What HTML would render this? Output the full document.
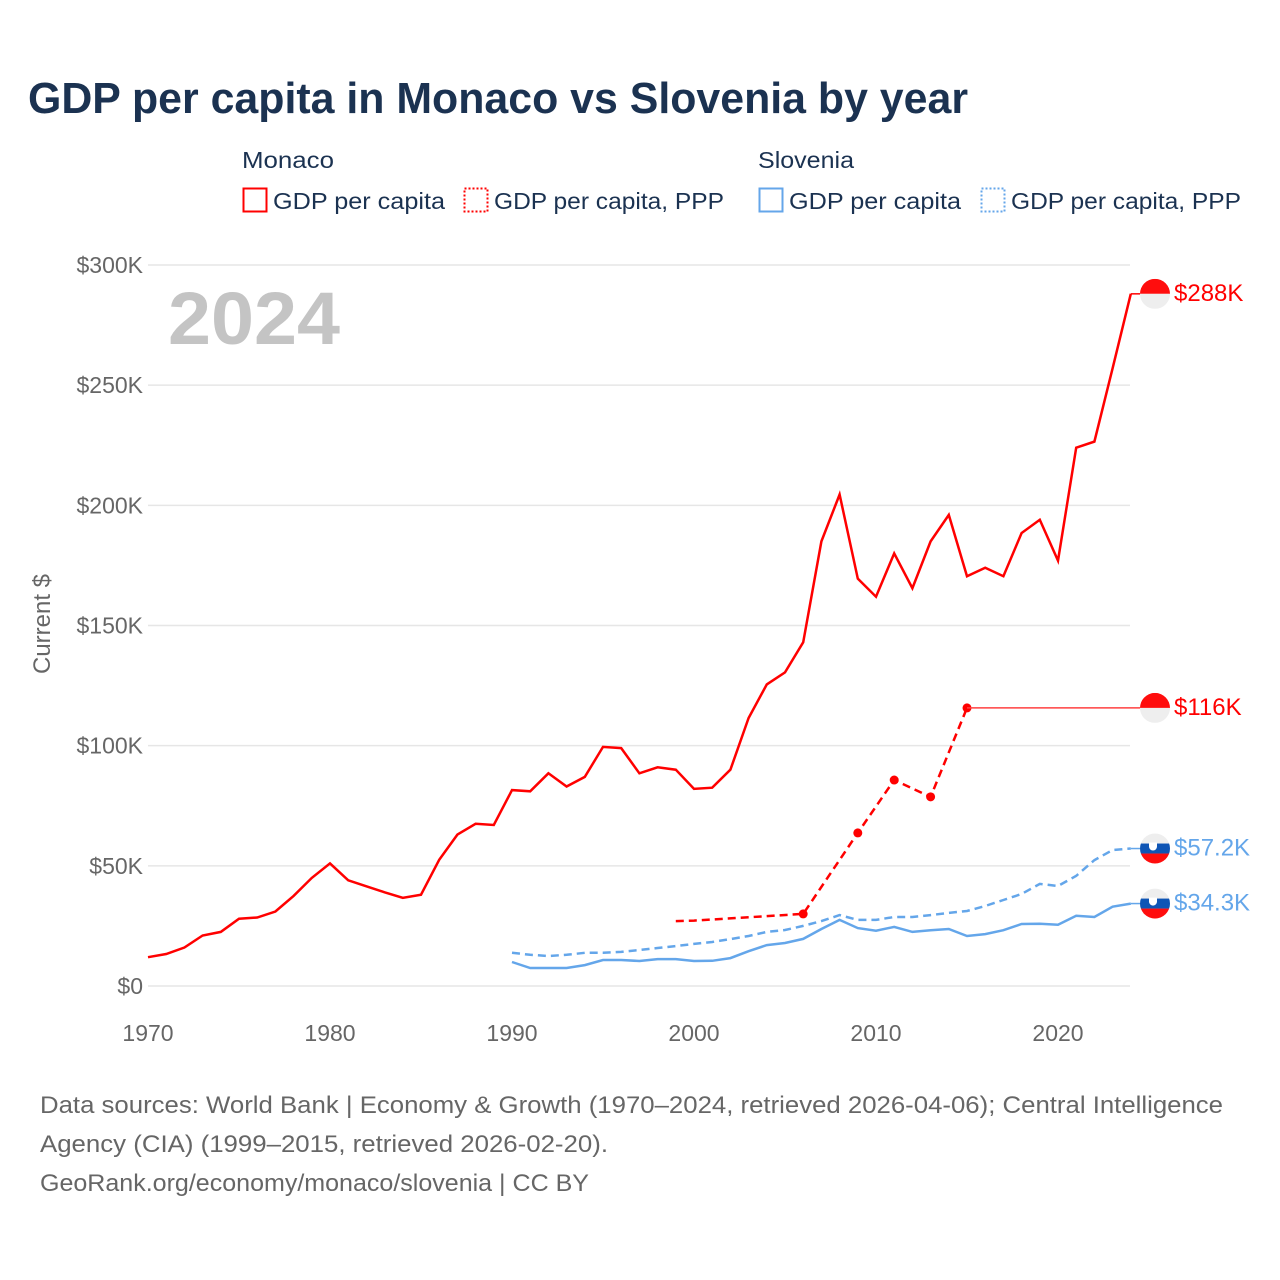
<!DOCTYPE html>
<html><head><meta charset="utf-8">
<style>
html,body{margin:0;padding:0;background:#fff;}
svg{display:block;font-family:"Liberation Sans",sans-serif;}
</style></head>
<body>
<svg id="chart" width="1280" height="1280" viewBox="0 0 1280 1280" xmlns="http://www.w3.org/2000/svg">
  <rect width="1280" height="1280" fill="#fff"/>
  <text x="28" y="113" font-size="44" font-weight="bold" fill="#1b3251" textLength="940" lengthAdjust="spacingAndGlyphs">GDP per capita in Monaco vs Slovenia by year</text>

  <g font-size="23" fill="#1b3251">
    <text x="242" y="168" textLength="92" lengthAdjust="spacingAndGlyphs">Monaco</text>
    <text x="758" y="168" textLength="96" lengthAdjust="spacingAndGlyphs">Slovenia</text>
    <g>
      <rect x="243.5" y="188.5" width="23" height="23" fill="none" stroke="#ff0000" stroke-width="2"/>
      <text x="273" y="209" textLength="172" lengthAdjust="spacingAndGlyphs">GDP per capita</text>
    </g>
    <g>
      <rect x="464.5" y="188.5" width="23" height="23" fill="none" stroke="#ff0000" stroke-width="2" stroke-dasharray="2,2"/>
      <text x="494" y="209" textLength="230" lengthAdjust="spacingAndGlyphs">GDP per capita, PPP</text>
    </g>
    <g>
      <rect x="759.5" y="188.5" width="23" height="23" fill="none" stroke="#64a6ea" stroke-width="2"/>
      <text x="789" y="209" textLength="172" lengthAdjust="spacingAndGlyphs">GDP per capita</text>
    </g>
    <g>
      <rect x="981.5" y="188.5" width="23" height="23" fill="none" stroke="#64a6ea" stroke-width="2" stroke-dasharray="2,2"/>
      <text x="1011" y="209" textLength="230" lengthAdjust="spacingAndGlyphs">GDP per capita, PPP</text>
    </g>
  </g>

  <text x="168" y="344" font-size="74" font-weight="bold" fill="#c4c4c4" textLength="172" lengthAdjust="spacingAndGlyphs">2024</text>
  <text transform="translate(50,624) rotate(-90)" text-anchor="middle" font-size="24" fill="#666">Current $</text>

  <g id="grid"></g>
  <g id="yticks"></g>
  <g id="xticks"></g>
  <g id="series"></g>
  <g id="labels"></g>

  <g font-size="24" fill="#666">
    <text x="40" y="1113" textLength="1183" lengthAdjust="spacingAndGlyphs">Data sources: World Bank | Economy &amp; Growth (1970–2024, retrieved 2026-04-06); Central Intelligence</text>
    <text x="40" y="1152" textLength="568" lengthAdjust="spacingAndGlyphs">Agency (CIA) (1999–2015, retrieved 2026-02-20).</text>
    <text x="40" y="1191" textLength="549" lengthAdjust="spacingAndGlyphs">GeoRank.org/economy/monaco/slovenia | CC BY</text>
  </g>
</svg>
<script>
const yTicks = [0, 50, 100, 150, 200, 250, 300];
const yTickLabels = ["$0", "$50K", "$100K", "$150K", "$200K", "$250K", "$300K"];
const xTicks = [1970, 1980, 1990, 2000, 2010, 2020];
const monacoYears = [1970,1971,1972,1973,1974,1975,1976,1977,1978,1979,1980,1981,1982,1983,1984,1985,1986,1987,1988,1989,1990,1991,1992,1993,1994,1995,1996,1997,1998,1999,2000,2001,2002,2003,2004,2005,2006,2007,2008,2009,2010,2011,2012,2013,2014,2015,2016,2017,2018,2019,2020,2021,2022,2023,2024];
const monacoGdp = [12,13.3,16,21,22.5,28,28.5,31,37.5,45,51,44,41.5,39,36.7,38,52.5,63,67.5,67,81.5,81,88.5,83,87,99.5,99,88.5,91,90,82,82.5,90,111.5,125.5,130.5,143,185,204.5,169.5,162,180,165.5,185,196,170.5,174,170.5,188.5,194,177,224,226.5,257,288];
const monacoPppYears = [1999,2000,2006,2009,2011,2013,2015];
const monacoPpp = [27,27.2,30,63.7,85.7,78.7,115.7];
const slovYears = [1990,1991,1992,1993,1994,1995,1996,1997,1998,1999,2000,2001,2002,2003,2004,2005,2006,2007,2008,2009,2010,2011,2012,2013,2014,2015,2016,2017,2018,2019,2020,2021,2022,2023,2024];
const slovGdp = [10,7.5,7.5,7.5,8.7,10.8,10.8,10.4,11.2,11.2,10.4,10.5,11.6,14.5,17,17.9,19.6,23.7,27.5,24.1,23,24.6,22.5,23.2,23.7,20.8,21.6,23.2,25.8,25.9,25.5,29.2,28.7,33,34.3];
const slovPpp = [13.8,13,12.5,13,13.8,13.8,14.2,15,15.8,16.6,17.5,18.3,19.5,20.8,22.5,23.3,25,27,29.5,27.5,27.5,28.7,28.7,29.5,30.4,31.2,33.3,35.8,38.3,42.5,41.6,45.8,52.4,56.6,57.2];
const endLabels = ["$288K", "$116K", "$57.2K", "$34.3K"];

const NS = "http://www.w3.org/2000/svg";
const X0 = 148, X1 = 1058, Y0 = 986, Y1 = 265;
function xs(yr){ return X0 + (yr - 1970) * (X1 - X0) / 50; }
function ys(v){ return Y0 - v * (Y0 - Y1) / 300; }
function mk(tag, attrs, parent){
  const e = document.createElementNS(NS, tag);
  for (const k in attrs) e.setAttribute(k, attrs[k]);
  parent.appendChild(e);
  return e;
}
const grid = document.getElementById('grid');
const yt = document.getElementById('yticks');
yTicks.forEach((v, i) => {
  const l = mk('line', {x1: 148, x2: 1130, y1: ys(v), y2: ys(v), stroke: '#e6e6e6', 'stroke-width': 1.5}, grid);
  
  
  const t = mk('text', {x: 143, y: ys(v) + 8, 'text-anchor': 'end', 'font-size': 23, fill: '#666'}, yt);
  t.textContent = yTickLabels[i];
  
  
});
const xt = document.getElementById('xticks');
xTicks.forEach(v => {
  const t = mk('text', {x: xs(v), y: 1041, 'text-anchor': 'middle', 'font-size': 23, fill: '#666'}, xt);
  t.textContent = v;
  
  
});
const ser = document.getElementById('series');
function path(years, vals){ return years.map((y, i) => (i ? 'L' : 'M') + xs(y).toFixed(1) + ',' + ys(vals[i]).toFixed(1)).join(''); }

let p;
p = mk('path', {d: path(slovYears, slovPpp), fill: 'none', stroke: '#64a6ea', 'stroke-width': 2.5, 'stroke-dasharray': '8,5'}, ser);


p = mk('path', {d: path(slovYears, slovGdp), fill: 'none', stroke: '#64a6ea', 'stroke-width': 2.5}, ser);


p = mk('path', {d: path(monacoYears, monacoGdp), fill: 'none', stroke: '#ff0000', 'stroke-width': 2.5}, ser);


p = mk('path', {d: path(monacoPppYears, monacoPpp), fill: 'none', stroke: '#ff0000', 'stroke-width': 2.5, 'stroke-dasharray': '8,5'}, ser);


monacoPppYears.forEach((y, i) => {
  if (i < 2) return;
  const c = mk('circle', {cx: xs(y), cy: ys(monacoPpp[i]), r: 4.5, fill: '#ff0000'}, ser);
  
  
});
const lastPpp = monacoPpp[monacoPpp.length - 1];
p = mk('line', {x1: xs(monacoPppYears[monacoPppYears.length - 1]), x2: 1140, y1: ys(lastPpp), y2: ys(lastPpp), stroke: '#ff4040', 'stroke-width': 1.5}, ser);



const lab = document.getElementById('labels');
const ends = [
  {v: monacoGdp[monacoGdp.length - 1], c: '#ff0000', flag: 'mc'},
  {v: lastPpp, c: '#ff0000', flag: 'mc'},
  {v: slovPpp[slovPpp.length - 1], c: '#64a6ea', flag: 'si'},
  {v: slovGdp[slovGdp.length - 1], c: '#64a6ea', flag: 'si'}
];
ends.forEach((e, i) => {
  const cy = ys(e.v), cx = 1155, r = 15;
  const g = mk('g', {}, lab);
  
  
  if (i !== 1) mk('line', {x1: xs(2024), x2: cx - r, y1: cy, y2: cy, stroke: e.c, 'stroke-width': 1.5}, g);
  const id = 'clip' + i;
  const cp = mk('clipPath', {id: id}, g);
  mk('circle', {cx: cx, cy: cy, r: r}, cp);
  const fg = mk('g', {'clip-path': 'url(#' + id + ')'}, g);
  if (e.flag === 'mc') {
    mk('rect', {x: cx - r, y: cy - r, width: 2 * r, height: r, fill: '#ff0d0d'}, fg);
    mk('rect', {x: cx - r, y: cy, width: 2 * r, height: r, fill: '#eeeeee'}, fg);
  } else {
    mk('rect', {x: cx - r, y: cy - r, width: 2 * r, height: 10, fill: '#eeeeee'}, fg);
    mk('rect', {x: cx - r, y: cy - 5, width: 2 * r, height: 10, fill: '#0f55b5'}, fg);
    mk('rect', {x: cx - r, y: cy + 5, width: 2 * r, height: 10, fill: '#ff0d0d'}, fg);
    mk('path', {d: 'M' + (cx - 6) + ',' + (cy - 6) + 'h8v4a4,4 0 0 1 -8,0z', fill: '#fff'}, fg);
  }
  const t = mk('text', {x: 1174, y: cy + 7, 'font-size': 24, fill: e.c}, g);
  t.textContent = endLabels[i];
});
</script>
</body></html>
